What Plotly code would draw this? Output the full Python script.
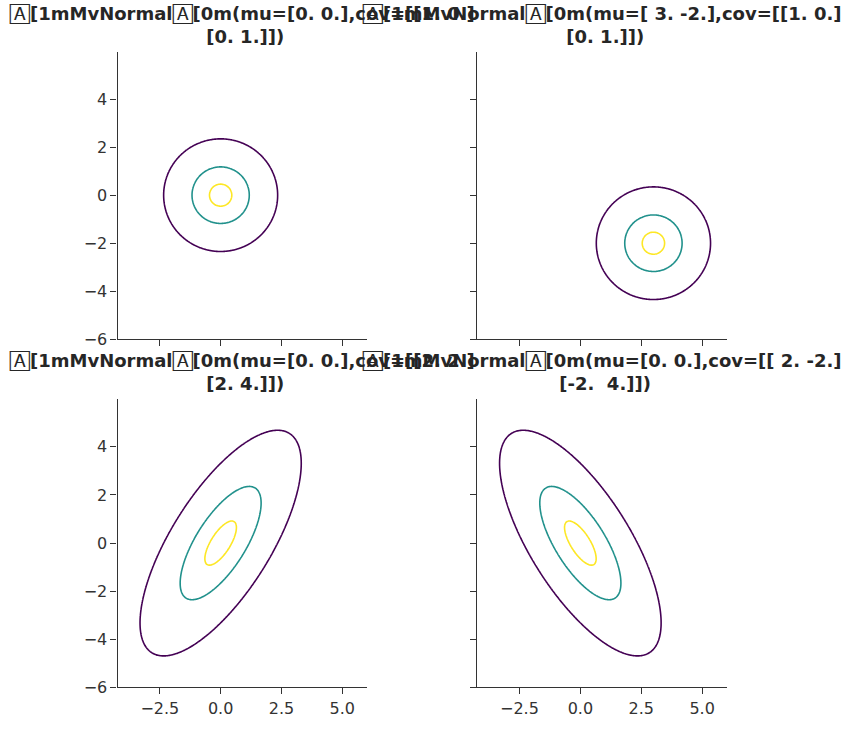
import numpy as np
import plotly.graph_objects as go

# ---- data ----
mus = [[0.0, 0.0], [3.0, -2.0], [0.0, 0.0], [0.0, 0.0]]
covs = [[[1.0, 0.0], [0.0, 1.0]],
        [[1.0, 0.0], [0.0, 1.0]],
        [[2.0, 2.0], [2.0, 4.0]],
        [[2.0, -2.0], [-2.0, 4.0]]]
G = "</b>🄰<b>"
title_line1 = [G + "[1mMvNormal" + G + "[0m(mu=[0. 0.],cov=[[1. 0.]",
               G + "[1mMvNormal" + G + "[0m(mu=[ 3. -2.],cov=[[1. 0.]",
               G + "[1mMvNormal" + G + "[0m(mu=[0. 0.],cov=[[2. 2.]",
               G + "[1mMvNormal" + G + "[0m(mu=[0. 0.],cov=[[ 2. -2.]"]
title_line2 = ["\u00a0[0. 1.]])", "\u00a0[0. 1.]])", "\u00a0[2. 4.]])", "\u00a0[-2.\u00a0\u00a04.]])"]
level_fracs = [0.064, 0.5, 0.9]          # contour levels as fraction of peak density
level_colors = ["#440154", "#21918c", "#fde725"]
x_ticks = [-2.5, 0.0, 2.5, 5.0]
y_ticks = [-6, -4, -2, 0, 2, 4]
x_range = [-4.243, 6.0]
y_range = [-6.0, 5.97]

W, H = 849, 729
xdoms = [[117.5 / W, 366.5 / W], [477.0 / W, 726.5 / W]]
ydoms = [[1 - 344.0 / H, 1 - 52.5 / H], [1 - 697.0 / H, 1 - 405.0 / H]]

gx = np.linspace(-4.4, 6.2, 320)
gy = np.linspace(-6.2, 6.2, 360)
XX, YY = np.meshgrid(gx, gy)

fig = go.Figure()
ink = "#262626"
for i in range(4):
    r, c = divmod(i, 2)
    mu = np.array(mus[i])
    cov = np.array(covs[i])
    inv = np.linalg.inv(cov)
    det = np.linalg.det(cov)
    dx = XX - mu[0]
    dy = YY - mu[1]
    q = inv[0, 0] * dx * dx + 2 * inv[0, 1] * dx * dy + inv[1, 1] * dy * dy
    peak = 1.0 / (2 * np.pi * np.sqrt(det))
    z = peak * np.exp(-0.5 * q)
    ax = "" if i == 0 else str(i + 1)
    for frac, col in zip(level_fracs, level_colors):
        L = frac * peak
        fig.add_trace(go.Contour(
            x=gx, y=gy, z=z, xaxis="x" + ax, yaxis="y" + ax,
            autocontour=False,
            contours=dict(start=L, end=L, size=1, coloring="lines", showlabels=False),
            colorscale=[[0, col], [1, col]], showscale=False,
            line=dict(width=1.6), hoverinfo="skip"))
    common = dict(showgrid=False, zeroline=False, showline=True, linecolor="#333333", linewidth=1.1,
                  ticks="outside", ticklen=6, tickwidth=1.1, tickcolor="#333333",
                  tickfont=dict(family="DejaVu Sans", size=16, color="#333333"))
    fig.layout["xaxis" + ax] = dict(domain=xdoms[c], range=x_range, tickvals=x_ticks,
                                    tickformat=".1f", showticklabels=(r == 1),
                                    anchor="y" + ax, **common)
    fig.layout["yaxis" + ax] = dict(domain=ydoms[r], range=y_range, tickvals=y_ticks,
                                    showticklabels=(c == 0), anchor="x" + ax, **common)
    cx = (xdoms[c][0] + xdoms[c][1]) / 2
    top = ydoms[r][1]
    fig.add_annotation(text="<b>" + title_line1[i] + "</b>", x=cx, y=top, xref="paper", yref="paper",
                       xanchor="center", yanchor="bottom", yshift=26, showarrow=False,
                       font=dict(family="DejaVu Sans", size=18, color=ink))
    fig.add_annotation(text="<b>" + title_line2[i] + "</b>", x=cx, y=top, xref="paper", yref="paper",
                       xanchor="center", yanchor="bottom", yshift=3, showarrow=False,
                       font=dict(family="DejaVu Sans", size=18, color=ink))

fig.update_layout(width=W, height=H, margin=dict(l=0, r=0, t=0, b=0),
                  plot_bgcolor="white", paper_bgcolor="white", showlegend=False)
fig.write_html("out.html")
